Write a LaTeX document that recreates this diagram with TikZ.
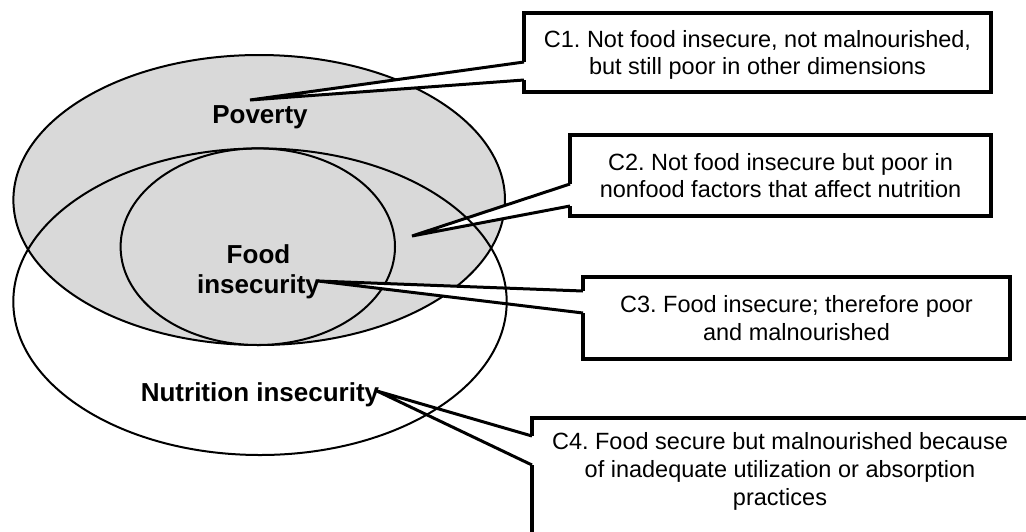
\documentclass[tikz,border=0pt]{standalone}
\usepackage{fontspec}
\setmainfont{Liberation Sans}
\usetikzlibrary{calc}
\definecolor{povgray}{HTML}{D9D9D9}
\tikzset{
  ring/.style={line width=2pt},
  lbl/.style={font=\bfseries\fontsize{26}{30}\selectfont, align=center, inner sep=0pt},
  callbox/.style={draw, line width=3.5pt, fill=white, outer sep=0pt, inner sep=0pt,
    font=\fontsize{23.5}{27.5}\selectfont, align=center, text depth=0pt},
  wedgeline/.style={line width=3pt, line join=miter},
}
\newcommand\wedgefill[4]{%
  \coordinate (#1a) at ($(#1.north west)+(0,#3)$);
  \coordinate (#1b) at ($(#1.north west)+(0,#4)$);
  \fill[white] (#1a) -- (#2) -- (#1b) -- cycle;
  \fill[white] ($(#1a)+(-2.6,0)$) rectangle ($(#1b)+(2.6,0)$);
}
\begin{document}
\frenchspacing
\begin{tikzpicture}[x=1pt,y=-1pt]
\useasboundingbox (0,0) rectangle (1026,531);
\clip (0,0) rectangle (1026,531);
\fill[white] (0,0) rectangle (1026,531);
% poverty and food insecurity sets
\draw[ring, fill=povgray] (259.2,200) ellipse [x radius=245.8pt, y radius=145pt];
\draw[ring, fill=povgray] (257.8,246.7) ellipse [x radius=137.2pt, y radius=98.3pt];
% labels
\node[lbl, anchor=base] (pov) at (260,123) {Poverty};
\node[lbl] (food) at (258.5,271.5) {Food\\insecurity};
\node[lbl, anchor=base] (nut) at (260,401.5) {Nutrition insecurity};
% callout boxes
\node[callbox, minimum width=467pt, minimum height=79pt] (c1) at (757.5,52.5)
  {C1. Not food insecure, not malnourished,\\but still poor in other dimensions};
\node[callbox, minimum width=421pt, minimum height=81pt] (c2) at (780.5,175.5)
  {C2. Not food insecure but poor in\\nonfood factors that affect nutrition};
\node[callbox, minimum width=427pt, minimum height=82pt] (c3) at (796.5,318)
  {C3. Food insecure; therefore poor\\and malnourished};
\node[callbox, minimum width=498pt, minimum height=132pt] (c4) at (781,484) {};
\node[font=\fontsize{23.5}{28}\selectfont, align=center, inner sep=0pt, text depth=0pt] (c4t) at (780,469)
  {C4. Food secure but malnourished because\\of inadequate utilization or absorption\\practices};
% tips
\coordinate (t1) at (250,100);
\coordinate (t2) at (412,236);
\coordinate (t3) at (318,281);
\coordinate (t4) at (377,391);
\wedgefill{c1}{t1}{49}{67}
\wedgefill{c2}{t2}{49}{71}
\wedgefill{c3}{t3}{14}{36}
\wedgefill{c4}{t4}{18}{47}
% nutrition insecurity set (outline on top)
\draw[ring] (260,301.7) ellipse [x radius=246.7pt, y radius=153.3pt];
% wedge outlines
\draw[wedgeline] (c1a) -- (t1) -- (c1b);
\draw[wedgeline] (c2a) -- (t2) -- (c2b);
\draw[wedgeline] (c3a) -- (t3) -- (c3b);
\draw[wedgeline] (c4a) -- (t4) -- (c4b);
\end{tikzpicture}
\end{document}
